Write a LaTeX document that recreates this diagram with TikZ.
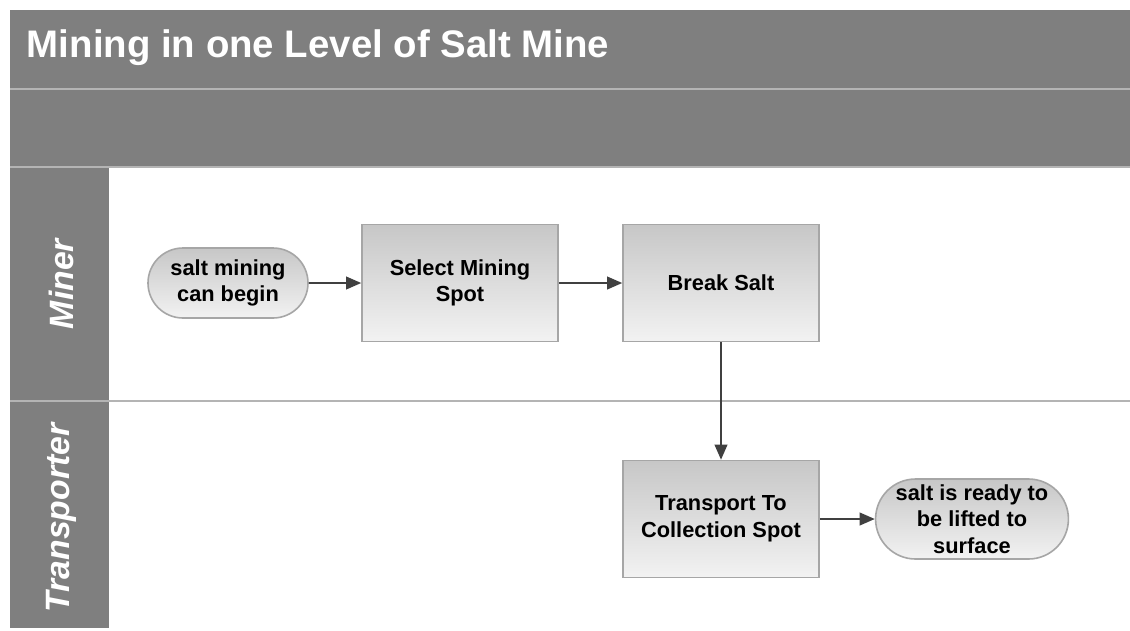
\documentclass[tikz,border=0pt]{standalone}
\usepackage{fontspec}
\setmainfont{Liberation Sans}
\usepackage{tikz}
\usetikzlibrary{arrows.meta,shapes.misc}

\definecolor{bandgray}{HTML}{7F7F7F}
\definecolor{ruleline}{HTML}{B4B4B4}
\definecolor{boxline}{HTML}{A6A6A6}
\definecolor{flowline}{HTML}{404040}

\tikzset{
  band/.style={fill=bandgray,draw=none},
  laneline/.style={ruleline,line width=0.5mm},
  lanename/.style={rotate=90,text=white,font=\fontsize{24}{28}\selectfont\bfseries\itshape},
  task/.style={draw=boxline,line width=0.4mm,rectangle,top color=black!22,bottom color=black!5,
    minimum width=49mm,minimum height=29.25mm,align=center,inner sep=0pt,
    font=\fontsize{15.5}{19}\selectfont\bfseries},
  terminal/.style={draw=boxline,line width=0.4mm,rounded rectangle,top color=black!22,bottom color=black!5,
    align=center,inner sep=0pt,font=\fontsize{15.5}{19}\selectfont\bfseries},
  flow/.style={flowline,line width=0.45mm,-{Triangle[length=3.8mm,width=3.2mm]}}
}

\begin{document}
\begin{tikzpicture}[x=0.25mm,y=-0.25mm]
 \useasboundingbox (0,0) rectangle (1130,630);
 \fill[white] (0,0) rectangle (1130,630);

 % title and bands
 \fill[band] (10,10) rectangle (1130,166);
 \fill[band] (10,166) rectangle (109,628);
 \draw[laneline] (10,89) -- (1130,89);
 \draw[laneline] (10,167) -- (1130,167);
 \draw[laneline] (10,401) -- (1130,401);
 \draw (22,48) node[anchor=west,text=white,font=\fontsize{27.3}{31}\selectfont\bfseries] (title) {Mining in one Level of Salt Mine};

 % lanes
 \draw (61,284) node[lanename] (miner) {Miner};
 \draw (61,518) node[lanename] (transporter) {Transporter};

 % steps
 \draw (228,283) node[terminal,minimum width=40mm,minimum height=17.5mm] (start) {salt mining\\can begin};
 \draw (460,283) node[task] (select) {Select Mining\\Spot};
 \draw (721,283) node[task] (break) {Break Salt};
 \draw (721,519) node[task] (transport) {Transport To\\Collection Spot};
 \draw (972,519) node[terminal,minimum width=47.5mm,minimum height=20mm] (ready) {salt is ready to\\be lifted to\\surface};

 \path[flow] (start) edge (select);
 \path[flow] (select) edge (break);
 \path[flow] (break) edge (transport);
 \path[flow] (transport) edge (ready);
\end{tikzpicture}
\end{document}
